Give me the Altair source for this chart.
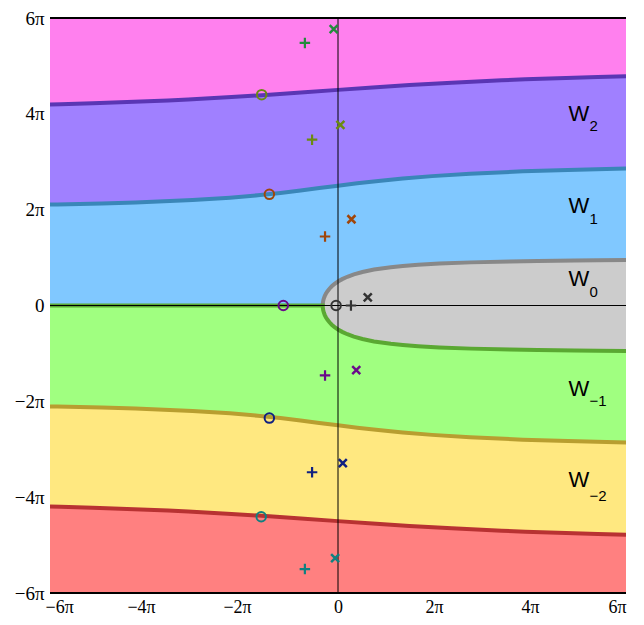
import altair as alt
import pandas as pd

# All coordinates are in units of pi
# Boundary between W_2 and W_3 (upper)
c2_x = [-6.0, -5.78, -5.11, -4.25, -3.54, -3.12, -2.22, -1.43, -0.70, 0.0, 0.72, 1.49, 2.37, 3.41, 3.90, 4.75, 5.41, 6.0]
c2_y = [4.195, 4.20, 4.22, 4.25, 4.28, 4.30, 4.35, 4.40, 4.45, 4.50, 4.55, 4.60, 4.65, 4.70, 4.72, 4.75, 4.77, 4.785]
# Boundary between W_1 and W_2
c1_x = [-6.0, -5.85, -4.92, -4.22, -3.03, -2.25, -1.67, -1.20, -0.78, -0.39, 0.0, 0.40, 0.84, 1.35, 1.96, 2.75, 3.85, 4.79, 5.59, 6.0]
c1_y = [2.107, 2.11, 2.13, 2.15, 2.20, 2.25, 2.30, 2.35, 2.40, 2.45, 2.50, 2.55, 2.60, 2.65, 2.70, 2.75, 2.80, 2.83, 2.85, 2.858]
# Boundary between W_-1 and W_-2
cm1_x = [-6.0, -5.85, -4.92, -4.22, -3.03, -2.25, -1.67, -1.20, -0.78, -0.39, 0.0, 0.40, 0.84, 1.35, 1.96, 2.75, 3.85, 4.79, 5.59, 6.0]
cm1_y = [-2.107, -2.11, -2.13, -2.15, -2.20, -2.25, -2.30, -2.35, -2.40, -2.45, -2.50, -2.55, -2.60, -2.65, -2.70, -2.75, -2.80, -2.83, -2.85, -2.858]
# Boundary between W_-2 and W_-3
cm2_x = [-6.0, -5.78, -5.11, -4.25, -3.54, -3.12, -2.22, -1.43, -0.70, 0.0, 0.72, 1.49, 2.37, 3.41, 3.90, 4.75, 5.41, 6.0]
cm2_y = [-4.195, -4.20, -4.22, -4.25, -4.28, -4.30, -4.35, -4.40, -4.45, -4.50, -4.55, -4.60, -4.65, -4.70, -4.72, -4.75, -4.77, -4.785]
# Upper boundary of W_0 (grey line)
w0u_x = [-0.318, -0.316, -0.308, -0.294, -0.275, -0.25, -0.218, -0.178, -0.130, -0.071, 0.0, 0.087, 0.195, 0.331, 0.509, 0.75, 1.10, 1.35, 1.67, 2.11, 2.77, 3.58, 4.16, 4.93, 5.42, 6.0]
w0u_y = [0.0, 0.05, 0.10, 0.15, 0.20, 0.25, 0.30, 0.35, 0.40, 0.45, 0.50, 0.55, 0.60, 0.65, 0.70, 0.75, 0.80, 0.825, 0.85, 0.875, 0.90, 0.92, 0.93, 0.94, 0.945, 0.95]
# Lower boundary of W_0 (green line), continuing along the negative real axis
w0l_x = [-6.0, -0.318, -0.316, -0.308, -0.294, -0.275, -0.25, -0.218, -0.178, -0.130, -0.071, 0.0, 0.087, 0.195, 0.331, 0.509, 0.75, 1.10, 1.35, 1.67, 2.11, 2.77, 3.58, 4.16, 4.93, 5.42, 6.0]
w0l_y = [0.0, 0.0, -0.05, -0.10, -0.15, -0.20, -0.25, -0.30, -0.35, -0.40, -0.45, -0.50, -0.55, -0.60, -0.65, -0.70, -0.75, -0.80, -0.825, -0.85, -0.875, -0.90, -0.92, -0.93, -0.94, -0.945, -0.95]

# Markers
circ_x = [-1.59, -1.43, -1.14, -0.04, -1.43, -1.60]
circ_y = [4.40, 2.32, 0.0, 0.0, -2.35, -4.41]
circ_c = ["#6b8a12", "#a0460a", "#6a0a8a", "#333333", "#102080", "#108080"]
plus_x = [-0.69, -0.54, -0.27, 0.27, -0.27, -0.54, -0.69]
plus_y = [5.48, 3.46, 1.44, 0.0, -1.46, -3.48, -5.50]
plus_c = ["#228b3c", "#6b8a12", "#a0460a", "#333333", "#6a0a8a", "#102080", "#108080"]
xm_x = [-0.09, 0.05, 0.28, 0.62, 0.38, 0.10, -0.06]
xm_y = [5.77, 3.77, 1.80, 0.17, -1.35, -3.29, -5.27]
xm_c = ["#228b3c", "#6b8a12", "#a0460a", "#333333", "#6a0a8a", "#102080", "#108080"]

# Labels
lab_x = [5.02, 5.02, 5.02, 5.02, 5.02]
lab_y = [3.86, 1.94, 0.40, -1.88, -3.78]
sub_x = [5.24, 5.24, 5.24, 5.24, 5.24]
sub_y = [3.64, 1.71, 0.18, -2.09, -4.07]
sub_t = ["2", "1", "0", "\u22121", "\u22122"]

ticks = [-6, -4, -2, 0, 2, 4, 6]

label_expr = "datum.value == 0 ? '0' : (datum.value < 0 ? '\u2212' : '') + abs(datum.value) + '\u03c0'"
sx = alt.Scale(domain=[-6, 6], nice=False, zero=False)
sy = alt.Scale(domain=[-6, 6], nice=False, zero=False)
ax = alt.Axis(values=ticks, labelExpr=label_expr, ticks=False, domain=False, grid=False,
              labelFont="Liberation Serif", labelFontSize=18, labelColor="black", labelPadding=5,
              labelOffset=alt.ExprRef(expr="datum.value < 0 ? -5 : 0"))
ay = alt.Axis(values=ticks, labelExpr=label_expr, ticks=False, domain=False, grid=False,
              labelFont="Liberation Serif", labelFontSize=19, labelColor="black", labelPadding=6)
X = alt.X("x:Q", scale=sx, axis=ax, title=None)
Y = alt.Y("y:Q", scale=sy, axis=ay, title=None)


def curve(xs, ys):
    return pd.DataFrame({"x": xs, "y": ys, "top": [6.0] * len(xs)})


bg = curve([-6.0, 6.0], [-6.0, -6.0])
zero = curve([-6.0, 6.0], [0.0, 0.0])


def band(df, color):
    return alt.Chart(df).mark_area(color=color, opacity=1, clip=True).encode(x=X, y=Y, y2="top:Q")


layers = [
    band(bg, "#ff8080"),
    band(curve(cm2_x, cm2_y), "#ffe880"),
    band(curve(cm1_x, cm1_y), "#a0ff80"),
    band(zero, "#80c8ff"),
    band(curve(c1_x, c1_y), "#a080ff"),
    band(curve(c2_x, c2_y), "#ff80ee"),
]

gx = list(reversed(w0l_x[1:])) + w0u_x[1:]
gy = list(reversed(w0l_y[1:])) + w0u_y[1:]
gdf = pd.DataFrame({"x": gx, "y": gy, "right": [6.0] * len(gx)})
layers.append(alt.Chart(gdf).mark_area(color="#cccccc", opacity=1, orient="horizontal", clip=True)
              .encode(y=Y, x=X, x2="right:Q"))


def line(xs, ys, color, w=4):
    return alt.Chart(curve(xs, ys)).mark_line(color=color, strokeWidth=w, clip=True).encode(x=X, y=Y)


layers += [
    line(c2_x, c2_y, "#5a36b4"),
    line(c1_x, c1_y, "#3a86b8"),
    line(w0u_x, w0u_y, "#888888"),
    line(w0l_x, w0l_y, "#5aa832"),
    line(cm1_x, cm1_y, "#b89e30"),
    line(cm2_x, cm2_y, "#b83232"),
]

hr = pd.DataFrame({"y": [0.0]})
vr = pd.DataFrame({"x": [0.0]})
border = pd.DataFrame({"y": [6.0, -6.0]})
layers += [
    alt.Chart(hr).mark_rule(color="black", strokeWidth=1).encode(y=Y),
    alt.Chart(vr).mark_rule(color="black", strokeWidth=1).encode(x=X),
    alt.Chart(border).mark_rule(color="black", strokeWidth=2).encode(y=Y),
]

cdf = pd.DataFrame({"x": circ_x, "y": circ_y, "c": circ_c})
pdf = pd.DataFrame({"x": plus_x, "y": plus_y, "c": plus_c})
xdf = pd.DataFrame({"x": xm_x, "y": xm_y, "c": xm_c})
layers += [
    alt.Chart(cdf).mark_point(shape="circle", filled=False, size=90, strokeWidth=2, opacity=1)
    .encode(x=X, y=Y, color=alt.Color("c:N", scale=None)),
    alt.Chart(pdf).mark_point(shape="M-1,0L1,0M0,-1L0,1", filled=False, size=110, strokeWidth=2.2, opacity=1)
    .encode(x=X, y=Y, color=alt.Color("c:N", scale=None)),
    alt.Chart(xdf).mark_point(shape="M-1,-1L1,1M-1,1L1,-1", filled=False, size=64, strokeWidth=2.5, opacity=1)
    .encode(x=X, y=Y, color=alt.Color("c:N", scale=None)),
]

ldf = pd.DataFrame({"x": lab_x, "y": lab_y, "t": ["W"] * 5})
sdf = pd.DataFrame({"x": sub_x, "y": sub_y, "t": sub_t})
layers += [
    alt.Chart(ldf).mark_text(font="Liberation Sans", fontSize=22, align="center", baseline="alphabetic", color="black")
    .encode(x=X, y=Y, text="t:N"),
    alt.Chart(sdf).mark_text(font="Liberation Sans", fontSize=15, align="left", baseline="alphabetic", color="black")
    .encode(x=X, y=Y, text="t:N"),
]

chart = alt.layer(*layers).properties(
    width=576, height=575,
    autosize=alt.AutoSizeParams(type="none"),
    padding={"left": 42, "top": 10, "right": 10, "bottom": 24},
).configure_view(stroke=None)

chart.save("out.html", embed_options={"renderer": "svg", "actions": False})
